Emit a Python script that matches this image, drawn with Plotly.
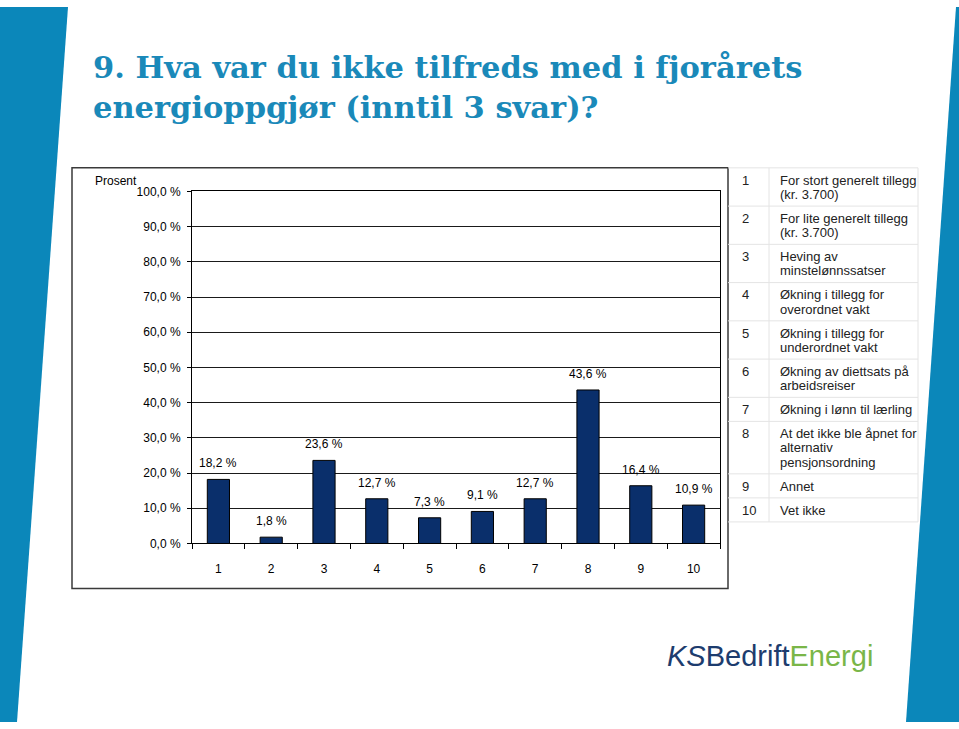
import plotly.graph_objects as go

W, H = 959, 729

# ---------------- data ----------------
categories = ["1", "2", "3", "4", "5", "6", "7", "8", "9", "10"]
values = [18.2, 1.8, 23.6, 12.7, 7.3, 9.1, 12.7, 43.6, 16.4, 10.9]
y_tick_values = [0, 10, 20, 30, 40, 50, 60, 70, 80, 90, 100]
y_tick_labels = ["0,0 %", "10,0 %", "20,0 %", "30,0 %", "40,0 %", "50,0 %",
                 "60,0 %", "70,0 %", "80,0 %", "90,0 %", "100,0 %"]
legend_numbers = ["1", "2", "3", "4", "5", "6", "7", "8", "9", "10"]
legend_texts = [
    ["For stort generelt tillegg", "(kr. 3.700)"],
    ["For lite generelt tillegg", "(kr. 3.700)"],
    ["Heving av", "minstelønnssatser"],
    ["Økning i tillegg for", "overordnet vakt"],
    ["Økning i tillegg for", "underordnet vakt"],
    ["Økning av diettsats på", "arbeidsreiser"],
    ["Økning i lønn til lærling"],
    ["At det ikke ble åpnet for", "alternativ", "pensjonsordning"],
    ["Annet"],
    ["Vet ikke"],
]
title_lines = ["9. Hva var du ikke tilfreds med i fjorårets",
               "energioppgjør (inntil 3 svar)?"]
y_axis_title = "Prosent"

# ---------------- helpers ----------------
def X(px):
    return px / W

def Y(py):
    return 1 - py / H

BLUE = "#0b87ba"
NAVY = "#0a2f6b"
SANS = "Liberation Sans, Arial, sans-serif"

label_texts = [("%.1f" % v).replace(".", ",") + " %" for v in values]

fig = go.Figure()
fig.add_trace(go.Bar(
    x=categories, y=values, width=0.42,
    marker=dict(color=NAVY, line=dict(color="#000000", width=1)),
    hoverinfo="skip",
))

shapes = []
# blue stripes
shapes.append(dict(type="path", xref="paper", yref="paper", layer="below",
                   path=f"M {X(0)},{Y(0)} L {X(68)},{Y(0)} L {X(17)},{Y(729)} L {X(0)},{Y(729)} Z",
                   fillcolor=BLUE, line=dict(width=0)))
shapes.append(dict(type="path", xref="paper", yref="paper", layer="below",
                   path=f"M {X(956)},{Y(0)} L {X(959)},{Y(0)} L {X(959)},{Y(729)} L {X(906)},{Y(729)} Z",
                   fillcolor=BLUE, line=dict(width=0)))
# chart box
shapes.append(dict(type="rect", xref="paper", yref="paper", layer="below",
                   x0=X(72), x1=X(728), y0=Y(593), y1=Y(164),
                   line=dict(color="#3a3a3a", width=1.5), fillcolor="rgba(0,0,0,0)"))

annotations = []
# title (one block, two lines)
annotations.append(dict(xref="paper", yref="paper", x=X(91), y=Y(41),
                        xanchor="left", yanchor="top", align="left", showarrow=False,
                        text="<br>".join(title_lines),
                        font=dict(family="DejaVu Serif, serif",
                                  size=30.5, color="#1a89b9", weight="bold")))
# y-axis title
annotations.append(dict(xref="paper", yref="paper", x=X(93), y=Y(177),
                        xanchor="left", yanchor="middle", showarrow=False,
                        text=y_axis_title, font=dict(family=SANS, size=12, color="#000000")))
# data labels (category axis positions are indices)
for i, (v, t) in enumerate(zip(values, label_texts)):
    annotations.append(dict(x=i, y=v, xref="x", yref="y", yanchor="middle",
                            yshift=16, showarrow=False, text=t,
                            font=dict(family=SANS, size=12, color="#000000")))

# legend table
tx0, tsep, tx1 = 728, 769, 918
top = 164
line_step = 14.5
rule_color = "#e4e4e4"
shapes.append(dict(type="line", xref="paper", yref="paper", x0=X(tx0), x1=X(tx1),
                   y0=Y(top), y1=Y(top), line=dict(color=rule_color, width=1)))
for num, lines in zip(legend_numbers, legend_texts):
    h = 10 + line_step * len(lines)
    first = top + 12.5
    annotations.append(dict(xref="paper", yref="paper", x=X(740), y=Y(first),
                            xanchor="left", yanchor="middle", showarrow=False, text=num,
                            font=dict(family=SANS, size=13, color="#222222")))
    for k, ln in enumerate(lines):
        annotations.append(dict(xref="paper", yref="paper", x=X(778), y=Y(first + k * line_step),
                                xanchor="left", yanchor="middle", showarrow=False, text=ln,
                                font=dict(family=SANS, size=13, color="#222222")))
    top += h
    shapes.append(dict(type="line", xref="paper", yref="paper", x0=X(tx0), x1=X(tx1),
                       y0=Y(top), y1=Y(top), line=dict(color=rule_color, width=1)))
shapes.append(dict(type="line", xref="paper", yref="paper", x0=X(tsep), x1=X(tsep),
                   y0=Y(164), y1=Y(top), line=dict(color=rule_color, width=1)))
shapes.append(dict(type="line", xref="paper", yref="paper", x0=X(tx1), x1=X(tx1),
                   y0=Y(164), y1=Y(top), line=dict(color=rule_color, width=1)))

# logo
annotations.append(dict(xref="paper", yref="paper", x=X(665), y=Y(662),
                        xanchor="left", yanchor="middle", showarrow=False,
                        text="<i>KS</i>Bedrift<span style='color:#7ab648'>Energi</span>",
                        font=dict(family=SANS, size=29, color="#1d3c6e")))

fig.update_layout(
    width=W, height=H,
    margin=dict(l=0, r=0, t=0, b=0),
    paper_bgcolor="white", plot_bgcolor="white",
    showlegend=False,
    shapes=shapes, annotations=annotations,
    xaxis=dict(domain=[X(192), X(720)], type="category", range=[-0.5, 9.5],
               showline=True, linecolor="#000000", linewidth=1, mirror=True,
               ticks="outside", tickson="boundaries", ticklen=5, tickcolor="#000000",
               showgrid=False, ticklabelstandoff=14,
               tickfont=dict(family=SANS, size=12, color="#000000")),
    yaxis=dict(domain=[Y(547), Y(188)], range=[0, 100],
               tickvals=y_tick_values, ticktext=y_tick_labels,
               showline=True, linecolor="#000000", linewidth=1, mirror=True,
               ticks="outside", ticklen=4, tickcolor="#000000",
               showgrid=True, gridcolor="#1a1a1a", gridwidth=1,
               zeroline=False, ticklabelstandoff=4,
               tickfont=dict(family=SANS, size=12, color="#000000")),
)

fig.write_html("out.html")
